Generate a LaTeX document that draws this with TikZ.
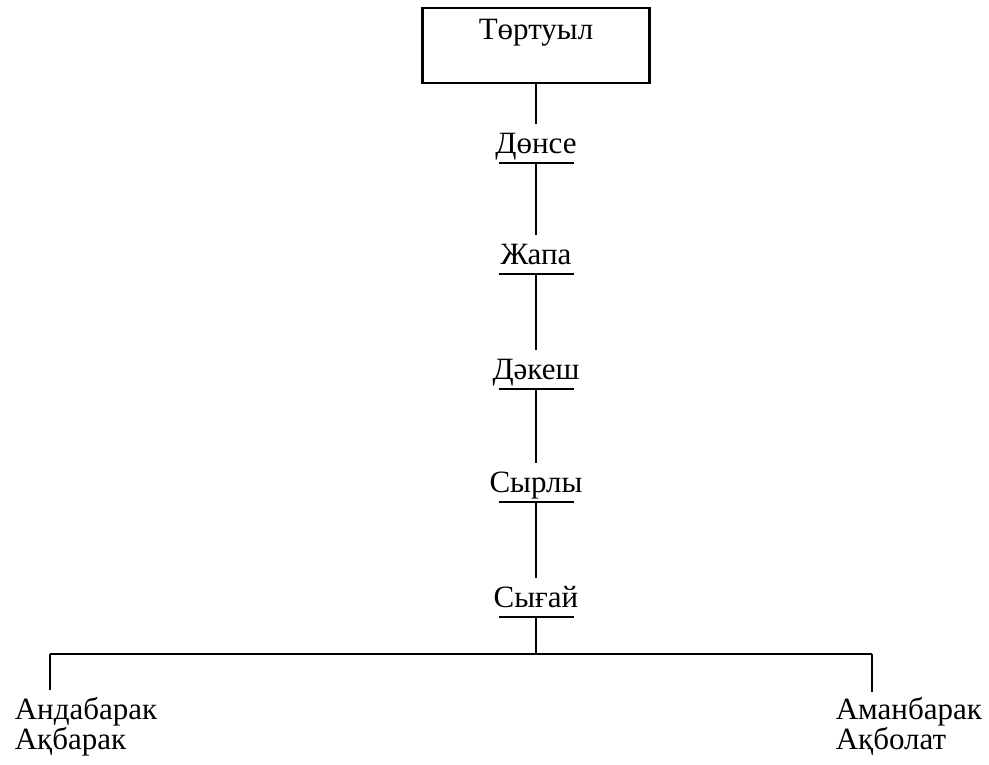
\documentclass[tikz,border=0pt]{standalone}
\usepackage{fontspec}
\setmainfont{Liberation Serif}
\begin{document}
\begin{tikzpicture}[x=1pt,y=-1pt,line width=1.7pt,
  txt/.style={font=\fontsize{31}{27.5}\selectfont},
  lbl/.style={txt,inner sep=0pt,text height=28pt,text depth=9pt,anchor=south},
  ul/.style={line width=1.8pt},
  names/.style={txt,inner sep=0pt,align=left,anchor=base west}]
\useasboundingbox (0,0) rectangle (989,764);
\node[txt,draw,line width=2.3pt,minimum width=227pt,inner sep=0pt,
      text height=31pt,text depth=44pt] (top) at (536,45.5) {Төртуыл};
\node[lbl] (d1) at (536,163) {Дөнсе};
\node[lbl] (d2) at (536,274) {Жапа};
\node[lbl] (d3) at (536,389) {Дәкеш};
\node[lbl] (d4) at (536,502) {Сырлы};
\node[lbl] (d5) at (536,617) {Сығай};
\foreach \n in {d1,d2,d3,d4,d5}
  \draw[ul] ([xshift=-37.5pt]\n.south) -- ([xshift=37.5pt]\n.south);
\draw (top.south) -- (d1.north);
\draw (d1.south) -- (d2.north);
\draw (d2.south) -- (d3.north);
\draw (d3.south) -- (d4.north);
\draw (d4.south) -- (d5.north);
\coordinate (hub) at (536,654);
\coordinate (bl) at (50,654);
\coordinate (br) at (872,654);
\draw (d5.south) -- (hub);
\draw (bl) -- (br);
\node[names] (ln) at (14,749) {Андабарак\\Ақбарак};
\node[names] (rn) at (835,749) {Аманбарак\\Ақболат};
\coordinate (ble) at (50,690);
\coordinate (bre) at (872,692);
\draw (bl) -- (ble);
\draw (br) -- (bre);
\end{tikzpicture}
\end{document}
